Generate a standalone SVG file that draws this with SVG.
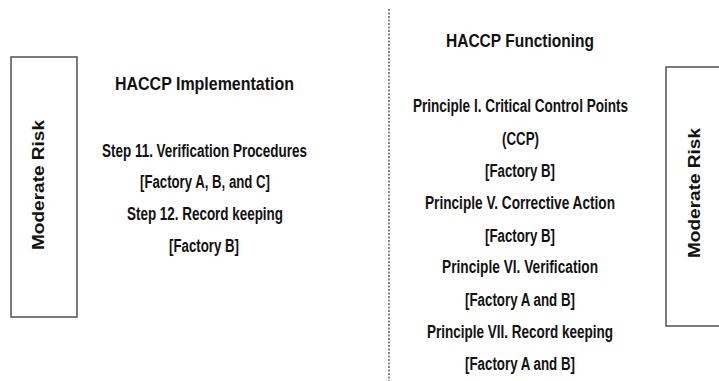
<svg xmlns="http://www.w3.org/2000/svg" width="719" height="381" viewBox="0 0 719 381">
  <style>
    text { font-family: "Liberation Sans Narrow", "Liberation Sans", Arial, sans-serif; fill: #111; text-anchor: middle; }
    .head { font-size: 19px; font-weight: 600; }
    .body { font-size: 17.5px; font-weight: bold; }
    .risk { font-size: 16.5px; font-weight: 600; }
    .box { fill: #fff; stroke: #444; stroke-width: 1.4; }
    .divider { stroke: #333; stroke-width: 1.2; stroke-dasharray: 2 1.5; fill: none; }
  </style>
  <rect width="719" height="381" fill="#fff"/>

  <g id="connectors">
    <line class="divider" x1="389" y1="9" x2="389" y2="381"/>
  </g>

  <g id="risk-left">
    <rect class="box" x="11" y="57" width="66" height="260"/>
    <text class="risk" transform="translate(43.5,185) rotate(-90)" textLength="130" lengthAdjust="spacingAndGlyphs">Moderate Risk</text>
  </g>

  <g id="implementation">
    <text class="head" x="204.5" y="90" textLength="179" lengthAdjust="spacingAndGlyphs">HACCP Implementation</text>
    <text class="body" x="204.5" y="157" textLength="205" lengthAdjust="spacingAndGlyphs">Step 11. Verification Procedures</text>
    <text class="body" x="205" y="188" textLength="130" lengthAdjust="spacingAndGlyphs">[Factory A, B, and C]</text>
    <text class="body" x="205" y="220" textLength="156" lengthAdjust="spacingAndGlyphs">Step 12. Record keeping</text>
    <text class="body" x="204" y="252" textLength="70" lengthAdjust="spacingAndGlyphs">[Factory B]</text>
  </g>

  <g id="functioning">
    <text class="head" x="520" y="47" textLength="148" lengthAdjust="spacingAndGlyphs">HACCP Functioning</text>
    <text class="body" x="520.5" y="112" textLength="215" lengthAdjust="spacingAndGlyphs">Principle I. Critical Control Points</text>
    <text class="body" x="520.5" y="145" textLength="37" lengthAdjust="spacingAndGlyphs">(CCP)</text>
    <text class="body" x="520" y="177" textLength="70" lengthAdjust="spacingAndGlyphs">[Factory B]</text>
    <text class="body" x="520" y="209" textLength="190" lengthAdjust="spacingAndGlyphs">Principle V. Corrective Action</text>
    <text class="body" x="520" y="242" textLength="70" lengthAdjust="spacingAndGlyphs">[Factory B]</text>
    <text class="body" x="520" y="273" textLength="156" lengthAdjust="spacingAndGlyphs">Principle VI. Verification</text>
    <text class="body" x="520" y="306" textLength="110" lengthAdjust="spacingAndGlyphs">[Factory A and B]</text>
    <text class="body" x="520" y="338" textLength="186" lengthAdjust="spacingAndGlyphs">Principle VII. Record keeping</text>
    <text class="body" x="520" y="370" textLength="110" lengthAdjust="spacingAndGlyphs">[Factory A and B]</text>
  </g>

  <g id="risk-right">
    <rect class="box" x="666" y="67" width="60" height="259"/>
    <text class="risk" transform="translate(700,193) rotate(-90)" textLength="130" lengthAdjust="spacingAndGlyphs">Moderate Risk</text>
  </g>
</svg>
